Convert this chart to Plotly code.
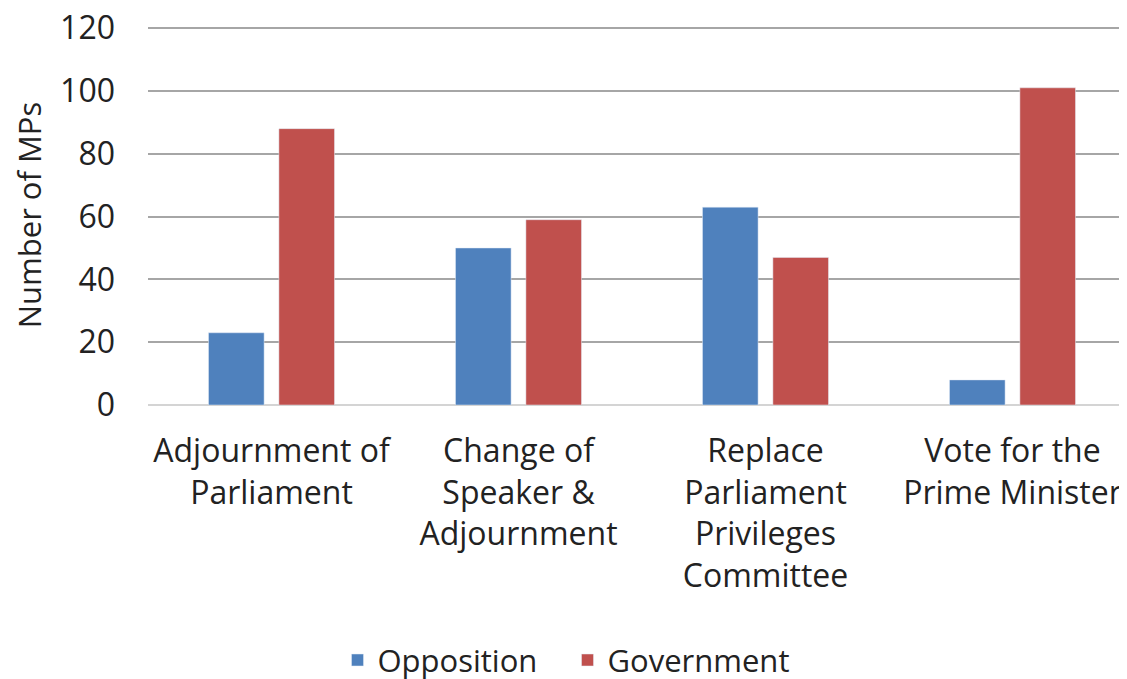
import plotly.graph_objects as go

categories = [
    "Adjournment of<br>Parliament",
    "Change of<br>Speaker &<br>Adjournment",
    "Replace<br>Parliament<br>Privileges<br>Committee",
    "Vote for the<br>Prime Minister",
]
opposition = [23, 50, 63, 8]
government = [88, 59, 47, 101]

FONT = "Open Sans, Liberation Sans, sans-serif"

fig = go.Figure()
fig.add_trace(go.Bar(x=categories, y=opposition, name="Opposition", marker_color="#4F81BD"))
fig.add_trace(go.Bar(x=categories, y=government, name="Government", marker_color="#C0504D"))

fig.update_layout(
    width=1127,
    height=679,
    margin=dict(l=140, r=0, t=17, b=282, autoexpand=False),
    plot_bgcolor="white",
    paper_bgcolor="white",
    font=dict(family=FONT, size=32, color="#222222"),
    barmode="group",
    bargap=0.43,
    bargroupgap=0.21,
    showlegend=True,
    legend=dict(
        orientation="h",
        x=0.192,
        xanchor="left",
        y=-0.672,
        yanchor="middle",
        font=dict(size=31),
        itemwidth=30,
        entrywidth=185,
        entrywidthmode="pixels",
    ),
)
fig.update_xaxes(
    range=[-0.5, 3.496],
    tickangle=0,
    showgrid=False,
    ticks="",
    automargin=False,
    ticklabelstandoff=24,
    tickfont=dict(size=32),
)
fig.update_yaxes(
    range=[0, 121],
    tickvals=[0, 20, 40, 60, 80, 100, 120],
    showgrid=True,
    gridcolor="#A6A6A6",
    gridwidth=2,
    zeroline=True,
    zerolinecolor="#D4D4D4",
    zerolinewidth=2,
    ticks="",
    automargin=True,
    ticklabeloverflow="allow",
    ticklabelstandoff=32,
    tickfont=dict(size=32),
    title=dict(text="Number of MPs", font=dict(size=31), standoff=10),
)

fig.write_html("out.html")
